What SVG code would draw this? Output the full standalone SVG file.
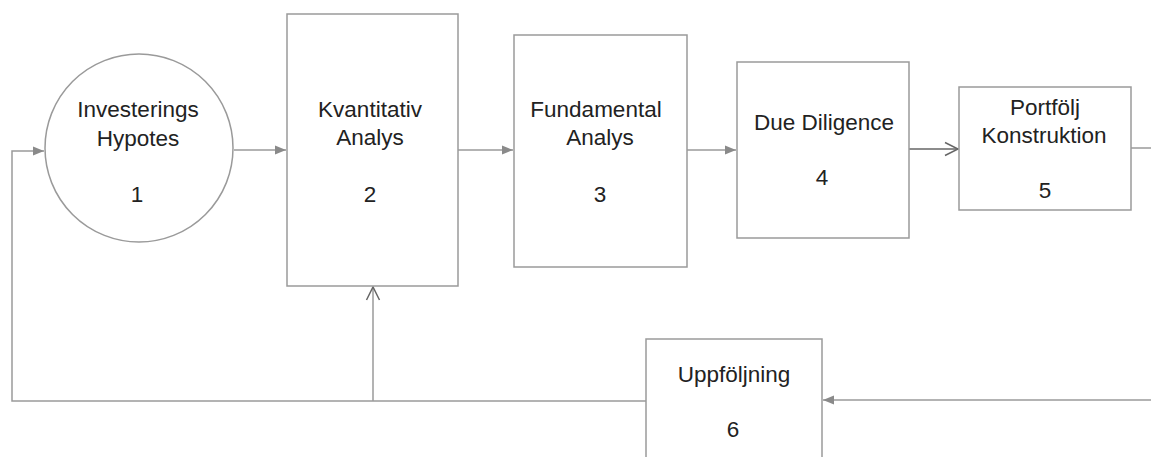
<svg xmlns="http://www.w3.org/2000/svg" width="1151" height="457" viewBox="0 0 1151 457">
<style>
.node{fill:#fff;stroke:#9a9a9a;stroke-width:1.5}
.lbl{font-family:"Liberation Sans",Arial,sans-serif;font-size:22.5px;fill:#222;text-anchor:middle}
.con{fill:none;stroke:#9a9a9a;stroke-width:1.5}
</style>
<defs>
<marker id="tri" markerUnits="userSpaceOnUse" markerWidth="12" markerHeight="10" refX="11" refY="5" orient="auto">
<path d="M0,0.5 L11,5 L0,9.5 z" fill="#8a8a8a"/>
</marker>
<marker id="vee" markerUnits="userSpaceOnUse" markerWidth="16" markerHeight="16" refX="14" refY="8" orient="auto">
<path d="M1,1.5 L14,8 L1,14.5" fill="none" stroke="#666" stroke-width="1.5"/>
</marker>
</defs>
<rect width="1151" height="457" fill="#fff"/>
<g id="connectors">
<path class="con" d="M234,150 H286" marker-end="url(#tri)"/>
<path class="con" d="M458,150 H513" marker-end="url(#tri)"/>
<path class="con" d="M687,150 H736" marker-end="url(#tri)"/>
<path class="con" d="M909,149 H958" style="stroke:#666" marker-end="url(#vee)"/>
<path class="con" d="M1131,148 H1151"/>
<path class="con" d="M1151,400 H823" marker-end="url(#tri)"/>
<path class="con" d="M646,401 H12 V151 H44" marker-end="url(#tri)"/>
<path class="con" d="M373,401 V287" marker-end="url(#vee)" style="stroke:#9a9a9a"/>
</g>
<g id="node1">
<circle class="node" cx="139" cy="148" r="94"/>
<text class="lbl" x="138" y="117">Investerings</text>
<text class="lbl" x="138" y="146">Hypotes</text>
<text class="lbl" x="137" y="202">1</text>
</g>
<g id="node2">
<rect class="node" x="287" y="14" width="171" height="272"/>
<text class="lbl" x="370" y="117">Kvantitativ</text>
<text class="lbl" x="370" y="145">Analys</text>
<text class="lbl" x="370" y="202">2</text>
</g>
<g id="node3">
<rect class="node" x="514" y="35" width="173" height="232"/>
<text class="lbl" x="596" y="117">Fundamental</text>
<text class="lbl" x="600" y="145">Analys</text>
<text class="lbl" x="600" y="202">3</text>
</g>
<g id="node4">
<rect class="node" x="737" y="62" width="172" height="176"/>
<text class="lbl" x="824" y="130">Due Diligence</text>
<text class="lbl" x="822" y="185">4</text>
</g>
<g id="node5">
<rect class="node" x="959" y="87" width="172" height="123"/>
<text class="lbl" x="1045" y="115">Portfölj</text>
<text class="lbl" x="1044" y="143">Konstruktion</text>
<text class="lbl" x="1045" y="198">5</text>
</g>
<g id="node6">
<rect class="node" x="646" y="339" width="176" height="130"/>
<text class="lbl" x="734" y="382">Uppföljning</text>
<text class="lbl" x="733" y="437">6</text>
</g>
</svg>
